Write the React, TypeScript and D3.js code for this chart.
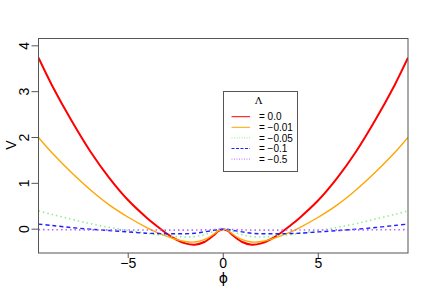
import React from 'react';
import * as d3 from 'd3';

// values
const phi = [-9.72, -9, -8, -7, -6, -5, -4, -3.5, -3, -2.5, -2, -1.5, -1, -0.5, -0.25, 0,
  0.25, 0.5, 1, 1.5, 2, 2.5, 3, 3.5, 4, 5, 6, 7, 8, 9, 9.72];

const vLam0 = [3.74, 3.13, 2.38, 1.70, 1.12, 0.63, 0.24, 0.07, -0.09, -0.22, -0.31, -0.34, -0.28, -0.13, -0.04, 0,
  -0.04, -0.13, -0.28, -0.34, -0.31, -0.22, -0.09, 0.07, 0.24, 0.63, 1.12, 1.70, 2.38, 3.13, 3.74];
const vLam001 = [2.00, 1.66, 1.24, 0.86, 0.53, 0.26, 0.03, -0.07, -0.15, -0.22, -0.27, -0.28, -0.23, -0.11, -0.03, 0,
  -0.03, -0.11, -0.23, -0.28, -0.27, -0.22, -0.15, -0.07, 0.03, 0.26, 0.53, 0.86, 1.24, 1.66, 2.00];
const vLam005 = [0.40, 0.32, 0.22, 0.12, 0.04, -0.03, -0.09, -0.12, -0.14, -0.16, -0.17, -0.16, -0.12, -0.05, -0.015, 0,
  -0.015, -0.05, -0.12, -0.16, -0.17, -0.16, -0.14, -0.12, -0.09, -0.03, 0.04, 0.12, 0.22, 0.32, 0.40];
const vLam01 = [0.11, 0.08, 0.035, 0.0, -0.03, -0.06, -0.09, -0.095, -0.10, -0.10, -0.10, -0.09, -0.06, -0.025, -0.008, 0,
  -0.008, -0.025, -0.06, -0.09, -0.10, -0.10, -0.10, -0.095, -0.09, -0.06, -0.03, 0.0, 0.035, 0.08, 0.11];
const vLam05 = [-0.01, -0.012, -0.014, -0.015, -0.016, -0.017, -0.018, -0.019, -0.02, -0.02, -0.02, -0.02, -0.015, -0.008, -0.003, 0,
  -0.003, -0.008, -0.015, -0.02, -0.02, -0.02, -0.02, -0.019, -0.018, -0.017, -0.016, -0.015, -0.014, -0.012, -0.01];

const legendLabels = ['= 0.0', '= \u22120.01', '= \u22120.05', '= \u22120.1', '= \u22120.5'];
const xTicks = [-5, 0, 5];
const yTicks = [0, 1, 2, 3, 4];

const series = [
  { values: vLam0, color: '#ff0000', width: 2, dash: null },
  { values: vLam001, color: '#ffa500', width: 1.4, dash: null },
  { values: vLam005, color: '#90ee90', width: 1.6, dash: '1.5,3' },
  { values: vLam01, color: '#2020ff', width: 1.4, dash: '4,3' },
  { values: vLam05, color: '#b06cff', width: 1.6, dash: '1.5,3' },
];

const fmt = (v: number) => (v < 0 ? '\u2212' + Math.abs(v) : String(v));

const App = () => {
  const width = 432;
  const height = 300;
  const margin = { top: 38.5, left: 38.5 };
  const innerW = 408 - margin.left;
  const innerH = 253 - margin.top;

  const x = d3.scaleLinear().domain([-9.72, 9.72]).range([margin.left, margin.left + innerW]);
  const y = d3.scaleLinear().domain([-0.52, 4.16]).range([margin.top + innerH, margin.top]);

  const line = (vals: number[]) =>
    d3.line<number>()
      .x((d, i) => x(phi[i]))
      .y(d => y(d))
      .curve(d3.curveCatmullRom.alpha(0.5))(vals) || '';

  const font = '"Liberation Sans", Arial, sans-serif';
  const bottom = margin.top + innerH;

  const lg = { x: 223.5, y: 91.5, w: 74, h: 80 };

  return (
    <svg width={width} height={height} style={{ position: 'absolute', left: 0, top: 0 }} fontFamily={font}>
      <rect width={width} height={height} fill="#fff" />
      <defs>
        <clipPath id="plotclip">
          <rect x={margin.left} y={margin.top} width={innerW} height={innerH} />
        </clipPath>
      </defs>
      <g clipPath="url(#plotclip)">
        {series.map((s, i) => (
          <path key={i} d={line(s.values)} fill="none" stroke={s.color} strokeWidth={s.width}
            strokeDasharray={s.dash || undefined} />
        ))}
      </g>
      <rect x={margin.left} y={margin.top} width={innerW} height={innerH} fill="none" stroke="#555" strokeWidth={1} />
      {xTicks.map(t => (
        <g key={t}>
          <line x1={x(t)} x2={x(t)} y1={bottom} y2={bottom + 5} stroke="#555" />
          <text x={x(t)} y={bottom + 15} textAnchor="middle" fontSize={14}>{fmt(t)}</text>
        </g>
      ))}
      {yTicks.map(t => (
        <g key={t}>
          <line x1={margin.left - 7} x2={margin.left} y1={y(t)} y2={y(t)} stroke="#555" />
          <text transform={`translate(${margin.left - 10},${y(t)}) rotate(-90)`} textAnchor="middle" fontSize={14}>{fmt(t)}</text>
        </g>
      ))}
      <text transform={`translate(16,145) rotate(-90)`} textAnchor="middle" fontSize={14}>V</text>
      <text x={x(0)} y={283} textAnchor="middle" fontSize={14} fontFamily='"DejaVu Sans", sans-serif' fill="#000">{'\u03d5'}</text>

      <rect x={lg.x} y={lg.y} width={lg.w} height={lg.h} fill="#fff" stroke="#555" />
      <text x={258.5} y={104} textAnchor="middle" fontSize={10} fontFamily='"DejaVu Serif", serif'>{'\u039b'}</text>
      {series.map((s, i) => (
        <g key={i}>
          <line x1={231.5} x2={250} y1={116.7 + i * 10.6} y2={116.7 + i * 10.6} stroke={s.color} strokeWidth={1}
            strokeDasharray={s.dash ? (s.dash === '4,3' ? '3,1.5' : '1,1.5') : undefined} />
          <text x={259} y={116.7 + i * 10.6 + 3.6} fontSize={10}>{legendLabels[i]}</text>
        </g>
      ))}
    </svg>
  );
};

export default App;
